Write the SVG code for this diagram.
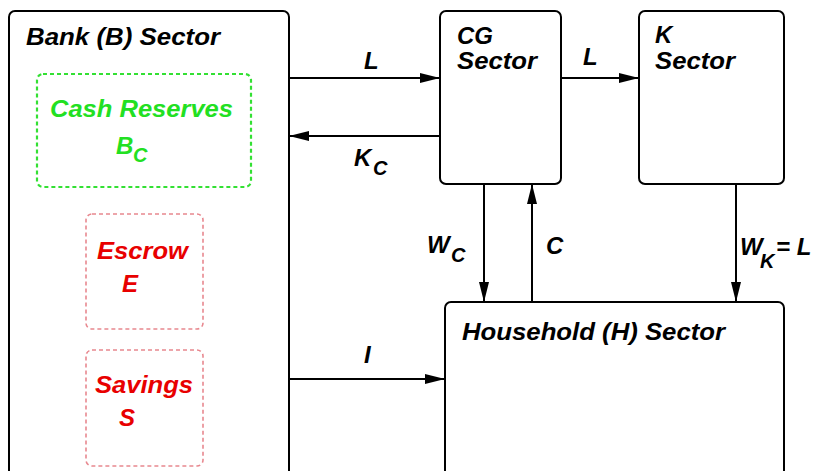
<svg xmlns="http://www.w3.org/2000/svg" width="814" height="471" viewBox="0 0 814 471">
<defs>
<marker id="ah" markerUnits="userSpaceOnUse" markerWidth="20" markerHeight="12" refX="20" refY="5" orient="auto">
<path d="M0,0 L20,5 L0,10 Z" fill="#000"/>
</marker>
<style>
.box{fill:#fff;stroke:#000;stroke-width:2}
.t{font-family:"Liberation Sans",Arial,sans-serif;font-weight:bold;font-style:italic;font-size:24px;fill:#000}
.s{font-size:20px}
.g{fill:#22e022}
.r{fill:#e80000}
.gb{fill:none;stroke:#33e033;stroke-width:2.2;stroke-dasharray:4 3}
.rb{fill:none;stroke:#e8888f;stroke-width:1.6;stroke-dasharray:4 3}
.c{fill:none;stroke:#000;stroke-width:2;marker-end:url(#ah)}
</style>
</defs>
<rect width="814" height="471" fill="#fff"/>
<g id="bank">
<rect class="box" x="9" y="11" width="280" height="480" rx="6"/>
<text class="t" x="26" y="45" textLength="194" lengthAdjust="spacingAndGlyphs">Bank (B) Sector</text>
</g>
<g id="cash">
<rect class="gb" x="37" y="74" width="214" height="113" rx="6"/>
<text class="t g" x="50" y="117" textLength="183" lengthAdjust="spacingAndGlyphs">Cash Reserves</text>
<text class="t g" x="116" y="154">B</text><text class="t g s" x="133" y="162">C</text>
</g>
<g id="escrow">
<rect class="rb" x="86" y="214" width="117" height="115" rx="6"/>
<text class="t r" x="97" y="259" textLength="91" lengthAdjust="spacingAndGlyphs">Escrow</text>
<text class="t r" x="122" y="292">E</text>
</g>
<g id="savings">
<rect class="rb" x="86" y="350" width="117" height="116" rx="6"/>
<text class="t r" x="95" y="393" textLength="98" lengthAdjust="spacingAndGlyphs">Savings</text>
<text class="t r" x="119" y="426">S</text>
</g>
<g id="cg">
<rect class="box" x="440" y="11" width="121" height="173" rx="6"/>
<text class="t" x="457" y="44" textLength="36" lengthAdjust="spacingAndGlyphs">CG</text>
<text class="t" x="457" y="69" textLength="80" lengthAdjust="spacingAndGlyphs">Sector</text>
</g>
<g id="k">
<rect class="box" x="639" y="11" width="145" height="173" rx="6"/>
<text class="t" x="655" y="43">K</text>
<text class="t" x="655" y="69" textLength="80" lengthAdjust="spacingAndGlyphs">Sector</text>
</g>
<g id="household">
<rect class="box" x="445" y="302" width="339" height="200" rx="6"/>
<text class="t" x="462" y="340" textLength="263" lengthAdjust="spacingAndGlyphs">Household (H) Sector</text>
</g>
<g id="connectors">
<line class="c" x1="289" y1="78" x2="440" y2="78"/>
<line class="c" x1="440" y1="136" x2="289" y2="136"/>
<line class="c" x1="561" y1="78" x2="639" y2="78"/>
<line class="c" x1="484" y1="184" x2="484" y2="302"/>
<line class="c" x1="532" y1="302" x2="532" y2="184"/>
<line class="c" x1="736" y1="184" x2="736" y2="302"/>
<line class="c" x1="289" y1="379" x2="445" y2="379"/>
<text class="t" x="364" y="69">L</text>
<text class="t" x="354" y="166">K</text><text class="t s" x="373" y="175">C</text>
<text class="t" x="583" y="65">L</text>
<text class="t" x="427" y="253">W</text><text class="t s" x="451" y="262">C</text>
<text class="t" x="546" y="254">C</text>
<text class="t" x="740" y="255">W</text><text class="t s" x="760" y="268">K</text><text class="t" x="776" y="255">= L</text>
<text class="t" x="364" y="363">I</text>
</g>
</svg>
